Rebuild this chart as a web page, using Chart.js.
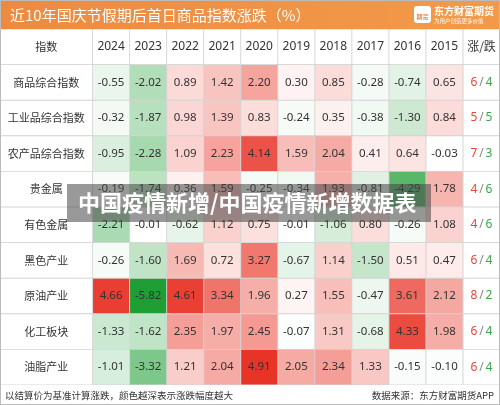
<!DOCTYPE html>
<html><head><meta charset="utf-8">
<script src="https://cdn.jsdelivr.net/npm/chart.js@4"></script>
<style>
html,body{margin:0;padding:0;background:#fff;}
#wrap{position:relative;width:500px;height:405px;}
</style></head>
<body><div id="wrap"><canvas id="c"></canvas></div>
<script>
// ── Datos ───────────────────────────────────────────────
const titulo   = "近10年国庆节假期后首日商品指数涨跌（%）";
const anios    = ["2024","2023","2022","2021","2020","2019","2018","2017","2016","2015"];
const indices  = ["商品综合指数","工业品综合指数","农产品综合指数","贵金属","有色金属","黑色产业","原油产业","化工板块","油脂产业"];
const v_comp   = [-0.55,-2.02,0.89,1.42,2.20,0.30,0.85,-0.28,-0.74,0.65];
const v_ind    = [-0.32,-1.87,0.98,1.39,0.83,-0.24,0.35,-0.38,-1.30,0.84];
const v_agr    = [-0.95,-2.28,1.09,2.23,4.14,1.59,2.04,0.41,0.64,-0.03];
const v_oro    = [-0.19,-1.74,0.36,1.59,-0.25,-0.34,1.93,-0.81,-4.29,1.78];
const v_color  = [-2.21,-0.01,-0.62,1.12,0.75,-0.01,-1.06,0.80,-0.26,1.08];
const v_negro  = [-0.26,-1.60,1.69,0.72,3.27,-0.67,1.14,-1.50,0.51,0.47];
const v_crudo  = [4.66,-5.82,4.61,3.34,1.96,0.27,1.55,-0.47,3.61,2.12];
const v_quim   = [-1.33,-1.62,2.35,1.97,2.45,-0.07,1.31,-0.68,4.33,1.98];
const v_aceite = [-1.01,-3.32,1.21,2.04,4.91,2.05,2.34,1.33,-0.15,-0.10];
const valores  = [v_comp,v_ind,v_agr,v_oro,v_color,v_negro,v_crudo,v_quim,v_aceite];

const ROJO = [232,52,38], VERDE = [30,158,52];
function colorCelda(v){
  if (v === null) return "#ffffff";
  const base = v >= 0 ? ROJO : VERDE;
  const t = Math.min(Math.abs(v) / (v >= 0 ? 4.9 : 5.8), 1);
  const c = base.map(b => Math.round(255 - (255 - b) * t));
  return `rgb(${c[0]},${c[1]},${c[2]})`;
}

const filas = ["指数", ...indices];
const datasets = [];
// columna de nombres
datasets.push({ data: filas.map(() => 2.5), backgroundColor: "#fff", tipo: "nombre" });
anios.forEach((a, j) => {
  datasets.push({
    data: filas.map(() => 1),
    backgroundColor: filas.map((f, i) => i === 0 ? "#fff" : colorCelda(valores[i-1][j])),
    tipo: "anio", col: j
  });
});
datasets.push({ data: filas.map(() => 1), backgroundColor: "#fff", tipo: "cuenta" });
datasets.forEach(d => { d.borderColor = "#d4d4d4"; d.borderWidth = 0.8; d.borderSkipped = false; d.categoryPercentage = 1; d.barPercentage = 1; });

// ── Textos sobre las celdas ───────────────────────────
const textos = {
  id: "textos",
  afterDatasetsDraw(chart) {
    const ctx = chart.ctx;
    ctx.save();
    ctx.textBaseline = "middle";
    ctx.textAlign = "center";
    chart.data.datasets.forEach((ds, di) => {
      chart.getDatasetMeta(di).data.forEach((el, i) => {
        const cx = (el.x + el.base) / 2, cy = el.y;
        ctx.fillStyle = "#333";
        ctx.font = "11px 'Noto Sans CJK SC'";
        if (ds.tipo === "nombre") {
          ctx.fillText(filas[i], cx, cy);
        } else if (ds.tipo === "anio") {
          if (i === 0) { ctx.font = "12px 'Noto Sans'"; ctx.fillText(anios[ds.col], cx, cy); }
          else { ctx.font = "11.5px 'Noto Sans'"; ctx.fillText(valores[i-1][ds.col].toFixed(2), cx, cy); }
        } else {
          if (i === 0) { ctx.font = "12px 'Noto Sans CJK SC'"; ctx.fillText("涨/跌", cx, cy); }
          else {
            const arr = valores[i-1];
            const up = arr.filter(v => v > 0).length, dn = arr.filter(v => v < 0).length;
            ctx.font = "12px 'Noto Sans'";
            ctx.fillStyle = "#e8463a"; ctx.textAlign = "right"; ctx.fillText(up, cx - 4, cy);
            ctx.fillStyle = "#888"; ctx.textAlign = "center"; ctx.fillText("/", cx, cy);
            ctx.fillStyle = "#3aa64a"; ctx.textAlign = "left"; ctx.fillText(dn, cx + 4, cy);
            ctx.textAlign = "center";
          }
        }
      });
    });
    // título
    const g = ctx.createLinearGradient(0, 0, 500, 0);
    g.addColorStop(0, "#ee8a40"); g.addColorStop(1, "#f29a4a");
    ctx.fillStyle = g; ctx.fillRect(0, 0, 500, 29);
    ctx.fillStyle = "#fff"; ctx.textAlign = "left";
    ctx.font = "15px 'Noto Sans CJK SC'";
    ctx.fillText(titulo, 10, 15);
    ctx.fillStyle = "#fff";
    ctx.beginPath(); ctx.roundRect(414, 6, 17, 17, 3); ctx.fill();
    ctx.fillStyle = "#ee8a40"; ctx.font = "bold 6px 'Noto Sans CJK SC'"; ctx.textAlign = "center";
    ctx.fillText("期货", 422.5, 17);
    ctx.fillStyle = "#fff"; ctx.textAlign = "left";
    ctx.font = "bold 10px 'Noto Sans CJK SC'"; ctx.fillText("东方财富期货", 434, 11);
    ctx.font = "5.5px 'Noto Sans CJK SC'"; ctx.fillText("为用户创造更多价值", 434, 21);
    // pie
    ctx.fillStyle = "#333"; ctx.font = "9.5px 'Noto Sans CJK SC'";
    ctx.fillText("以结算价为基准计算涨跌，颜色越深表示涨跌幅度越大", 5, 395);
    ctx.textAlign = "right";
    ctx.fillText("数据来源：东方财富期货APP", 494, 395);
    // marca de agua
    ctx.fillStyle = "rgba(70,70,70,0.55)";
    ctx.fillRect(67, 184, 364, 38);
    ctx.fillStyle = "#fff"; ctx.textAlign = "left";
    ctx.font = "bold 22px 'Noto Sans CJK SC'";
    ctx.fillText("中国疫情新增/中国疫情新增数据表", 78, 203);
    ctx.strokeStyle = "#bbb"; ctx.lineWidth = 1;
    ctx.strokeRect(0.5, 0.5, 499, 404);
    ctx.restore();
  }
};

new Chart(document.getElementById("c"), {
  type: "bar",
  data: { labels: filas, datasets },
  options: {
    indexAxis: "y",
    responsive: true, maintainAspectRatio: false, animation: false,
    layout: { padding: { top: 29, bottom: 20, left: 0, right: 0 } },
    scales: {
      x: { stacked: true, display: false, min: 0, max: 13.5 },
      y: { stacked: true, display: false }
    },
    plugins: { legend: { display: false }, tooltip: { enabled: false } }
  },
  plugins: [textos]
});
</script></body></html>
